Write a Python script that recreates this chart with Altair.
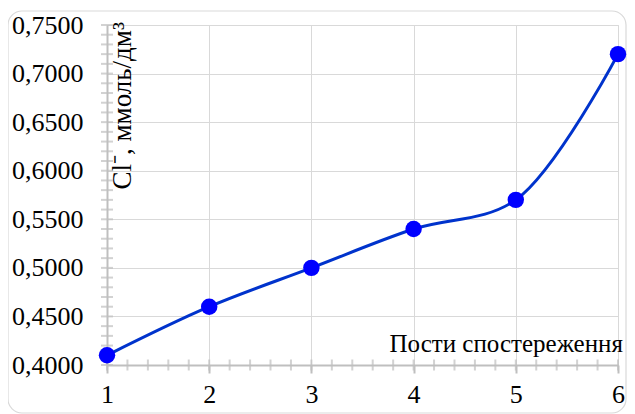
import altair as alt
import pandas as pd

posts = [1, 2, 3, 4, 5, 6]
cl_values = [0.41, 0.46, 0.50, 0.54, 0.57, 0.72]

x_major = [1, 2, 3, 4, 5, 6]
x_minor = [1.0, 1.2, 1.4, 1.6, 1.8, 2.0, 2.2, 2.4, 2.6, 2.8, 3.0, 3.2, 3.4, 3.6, 3.8,
           4.0, 4.2, 4.4, 4.6, 4.8, 5.0, 5.2, 5.4, 5.6, 5.8, 6.0]
y_major = [0.40, 0.45, 0.50, 0.55, 0.60, 0.65, 0.70, 0.75]
y_minor = [0.40, 0.41, 0.42, 0.43, 0.44, 0.45, 0.46, 0.47, 0.48, 0.49, 0.50, 0.51,
           0.52, 0.53, 0.54, 0.55, 0.56, 0.57, 0.58, 0.59, 0.60, 0.61, 0.62, 0.63,
           0.64, 0.65, 0.66, 0.67, 0.68, 0.69, 0.70, 0.71, 0.72, 0.73, 0.74, 0.75]

x_title = "Пости спостереження"
y_title = "Cl⁻, ммоль/дм³"

FONT = "Liberation Serif"
GRID = "#D9D9D9"
AXIS = "#BFBFBF"

df = pd.DataFrame({"post": posts, "cl": cl_values})
xs = alt.Scale(domain=[1, 6], nice=False, zero=False)
ys = alt.Scale(domain=[0.40, 0.75], nice=False, zero=False)

x_axis = alt.Axis(
    values=x_major, format="d", grid=True, gridColor=GRID, gridWidth=1,
    domainColor=AXIS, domainWidth=2, tickColor=AXIS, tickWidth=2, tickSize=8,
    labelFont=FONT, labelFontSize=26, labelColor="black", labelPadding=8,
    labelFlush=False,
    title=x_title, titleFont=FONT, titleFontSize=25, titleFontWeight="normal",
    titleColor="black", titleX=282, titleY=-14, titleAlign="left",
    titleBaseline="alphabetic", titleAngle=0,
)
y_axis = alt.Axis(
    values=y_major, grid=True, gridColor=GRID, gridWidth=1,
    domainColor=AXIS, domainWidth=2, ticks=False,
    labelFont=FONT, labelFontSize=26, labelColor="black", labelPadding=24,
    labelFlush=False,
    labelExpr="replace(format(datum.value, '.4f'), '.', ',')",
    title=y_title, titleFont=FONT, titleFontSize=27, titleFontWeight="normal",
    titleColor="black", titleX=23, titleY=164, titleAlign="left",
    titleBaseline="alphabetic", titleAngle=270,
)

border = alt.Chart(alt.Data(values=[{}])).mark_rect(
    fill=None, stroke="#D9D9D9", strokeWidth=1.2, cornerRadius=14
).encode(
    x=alt.value(-99), x2=alt.value(519), y=alt.value(-14), y2=alt.value(388)
)

line = alt.Chart(df).mark_line(
    interpolate="catmull-rom", color="#0033CC", strokeWidth=3
).encode(
    x=alt.X("post:Q", scale=xs, axis=x_axis),
    y=alt.Y("cl:Q", scale=ys, axis=y_axis),
)

pts = alt.Chart(df).mark_circle(size=270, color="#0000FF", opacity=1).encode(
    x=alt.X("post:Q", scale=xs, axis=x_axis),
    y=alt.Y("cl:Q", scale=ys, axis=y_axis),
)

xt = alt.Chart(pd.DataFrame({"t": x_minor})).mark_tick(
    orient="vertical", size=11, thickness=2, color=AXIS
).encode(
    x=alt.X("t:Q", scale=xs, axis=x_axis),
    y=alt.Y(datum=0.40, scale=ys, axis=y_axis),
)

yt = alt.Chart(pd.DataFrame({"t": y_minor})).mark_tick(
    orient="horizontal", size=12, thickness=2, color=AXIS
).encode(
    y=alt.Y("t:Q", scale=ys, axis=y_axis),
    x=alt.X(datum=1, scale=xs, axis=x_axis),
)

chart = alt.layer(border, line, xt, yt, pts).properties(
    width=511, height=340,
    padding={"left": 99, "top": 17, "right": 9, "bottom": 49},
    autosize=alt.AutoSizeParams(type="none"),
).configure_view(stroke=None).configure(background="white", font=FONT)

chart.save("out.html", embed_options={"renderer": "svg", "actions": False})
